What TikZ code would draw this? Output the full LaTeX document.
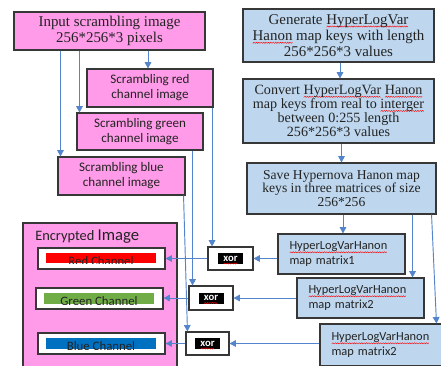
\documentclass[tikz,border=0pt]{standalone}
\usepackage{fontspec}
\setmainfont{Liberation Serif}
\newfontfamily\calfont{Carlito}
\usetikzlibrary{arrows.meta,calc}
\newdimen\wvw
\newcommand\wavepic{%
  \begin{pgfpicture}%
    \pgfsetlinewidth{0.3pt}\pgfsetstrokecolor{red}%
    \pgfmathtruncatemacro\wvn{\wvw/0.9pt}%
    \pgfpathmoveto{\pgfpoint{0pt}{0pt}}%
    \foreach \wi in {1,...,\wvn}{%
      \pgfmathsetmacro\wvy{mod(\wi,2)*0.9}%
      \pgfpathlineto{\pgfpoint{\wi*0.9pt}{\wvy pt}}}%
    \pgfusepath{stroke}%
  \end{pgfpicture}}
\newcommand\rwave[1]{\setbox0\hbox{#1}\wvw=\wd0\relax\rlap{\smash{\raisebox{-2.4pt}{\wavepic}}}\box0\relax}
\def\pxu{0.75pt}
\definecolor{pinkf}{RGB}{255,155,232}
\definecolor{bluef}{RGB}{190,215,238}
\definecolor{arrc}{RGB}{84,132,204}
\definecolor{edgec}{RGB}{55,55,55}
\definecolor{txtc}{RGB}{35,35,35}
\definecolor{greenbar}{RGB}{112,173,71}
\definecolor{bluebar}{RGB}{0,112,192}
\begin{document}
\begin{tikzpicture}[x=0.75pt,y=-0.75pt,
  wh/.style 2 args={minimum width={#1*\pxu},minimum height={#2*\pxu}},
  box/.style={draw=edgec,line width=0.8pt,inner sep=0pt,text=txtc},
  pbox/.style={box,fill=pinkf},
  bbox/.style={box,fill=bluef},
  wbox/.style={box,fill=white},
  serA/.style={font=\fontsize{11.2}{12.2}\selectfont,align=center},
  serB/.style={font=\fontsize{10.6}{10.6}\selectfont,align=center},
  serC/.style={font=\fontsize{10.2}{10.2}\selectfont,align=center},
  sansA/.style={font=\calfont\fontsize{9.8}{11.3}\selectfont,align=center},
  sansM/.style={font=\calfont\fontsize{9.3}{10.6}\selectfont,align=left,text width={104*\pxu}},
  xortxt/.style={fill=black,text=white,font=\calfont\bfseries\fontsize{8}{8}\selectfont,inner sep=0pt,minimum width={25*\pxu},minimum height={11*\pxu}},
  chtxt/.style={font=\calfont\fontsize{9.6}{9.6}\selectfont,text=txtc,anchor=base,inner sep=0pt},
  arr/.style={draw=arrc,line width=0.7pt,-{Triangle[length=4.8pt,width=5pt]}}
]
\fill[white] (0,0) rectangle (441,365);
\useasboundingbox (0,0) rectangle (441,365);

% left column
\node[pbox,wh={191}{38},serA] (input) at (109.5,31) {Input scrambling image\\256*256*3 pixels};
\node[pbox,wh={126}{38},sansA] (sred) at (150,88) {Scrambling red\\channel image};
\node[pbox,wh={126}{37},sansA] (sgreen) at (140,131.5) {Scrambling green\\channel image};
\node[pbox,wh={127}{38},sansA] (sblue) at (121.5,176) {Scrambling blue\\channel image};

% right column
\node[bbox,wh={191}{53},serA] (gen) at (338.5,35.5) {Generate \rwave{HyperLogVar}\\\rwave{Hanon} map keys with length\\256*256*3 values};
\node[bbox,wh={191}{64},serB] (conv) at (338.5,111) {Convert \rwave{HyperLogVar} \rwave{Hanon}\\map keys from real to \rwave{interger}\\between 0:255 length\\256*256*3 values};
\node[bbox,wh={189}{51},serC] (save) at (341.5,188.5) {Save Hypernova Hanon map\\keys in three matrices of size\\256*256};
\node[bbox,wh={127}{40},sansM] (m1) at (341.5,254) {\rwave{HyperLogVarHanon}\\map matrix1};
\node[bbox,wh={127}{40},sansM] (m2) at (360.5,298) {\rwave{HyperLogVarHanon}\\map matrix2};
\node[bbox,wh={127}{42},sansM] (m3) at (383.5,345) {\rwave{HyperLogVarHanon}\\map matrix2};

% encrypted image
\node[pbox,wh={154}{160}] (enc) at (100,303) {};
\node[anchor=base west,inner sep=0pt,text=txtc,font=\calfont] (enct) at (35,240) {\fontsize{10.8}{12}\selectfont Encrypted \fontsize{12.5}{12}\selectfont Image};

\node[wbox,wh={127}{21}] (redch) at (101.5,258.5) {};
\node[wbox,wh={127}{21}] (greench) at (99.5,298.5) {};
\node[wbox,wh={127}{21}] (bluech) at (101.5,343.5) {};

\node[fill=red,inner sep=0pt,wh={110}{10}] (redbar) at (101,258) {};
\node[fill=greenbar,inner sep=0pt,wh={110}{11}] (greenbar) at (99,298.5) {};
\node[fill=bluebar,inner sep=0pt,wh={110}{11}] (bluebar) at (101,343.5) {};
\begin{scope}
  \clip (redbar.north west) rectangle (redbar.south east);
  \node[chtxt] (redt) at (101,265) {Red Channel};
\end{scope}
\begin{scope}
  \clip (greenbar.north west) rectangle (greenbar.south east);
  \node[chtxt] (greent) at (99,305.5) {Green Channel};
\end{scope}
\begin{scope}
  \clip (bluebar.north west) rectangle (bluebar.south east);
  \node[chtxt] (bluet) at (101,350.5) {Blue Channel};
\end{scope}

% xor boxes
\node[wbox,wh={45}{23}] (xor1) at (230.5,258.5) {};
\node[xortxt] (xor1t) at (xor1) {\rwave{xor}};
\node[wbox,wh={44}{24}] (xor2) at (211,298) {};
\node[xortxt] (xor2t) at (xor2) {\rwave{xor}};
\node[wbox,wh={43}{23}] (xor3) at (207.5,343.5) {};
\node[xortxt] (xor3t) at (xor3) {\rwave{xor}};

% connectors: input to scrambling
\coordinate (g1) at ($(sgreen.north west)+(3,0)$);
\coordinate (b1) at ($(sblue.north west)+(3,0)$);
\coordinate (r1) at ($(sred.north)+(-2,0)$);
\draw[arr] (input.south -| r1) -- (r1);
\draw[arr] (input.south -| g1) -- (g1);
\draw[arr] (input.south -| b1) -- (b1);

% right chain
\coordinate (gc) at ($(conv.north)+(1.5,0)$);
\draw[arr] (gen.south -| gc) -- (gc);
\draw[arr] (conv.south -| save.north) -- (save.north);
\coordinate (mc) at ($(m1.north)+(1.5,0)$);
\draw[arr] (save.south -| mc) -- (mc);
\coordinate (m2c) at ($(m2.north east)+(-12,0)$);
\draw[arr] (save.south -| m2c) -- (m2c);
\coordinate (m3s) at ($(save.south east)+(-5,0)$);
\coordinate (m3c) at ($(m3.north west)+(117,0)$);
\draw[arr] (m3s) -- (m3c);

% scrambling to xor
\coordinate (rx) at ($(sred.south east)+(-1.5,0)$);
\draw[arr] (rx) -- (rx |- xor1.north);
\coordinate (gx) at ($(sgreen.south east)+(-11,0)$);
\draw[arr] (gx) -- (gx |- xor2.north);
\coordinate (bx) at ($(sblue.south east)+(-2,0)$);
\coordinate (bx2) at ($(xor3.north west)+(2,0)$);
\draw[arr] (bx) -- (bx2);

% matrices to xor, xor to channels
\draw[arr] (m1.west |- xor1.east) -- (xor1.east);
\draw[arr] (xor1.west) -- (redch.east |- xor1.west);
\draw[arr] (m2.west |- xor2.east) -- (xor2.east);
\draw[arr] (xor2.west) -- (greench.east |- xor2.west);
\draw[arr] (m3.west |- xor3.east) -- (xor3.east);
\draw[arr] (xor3.west) -- (bluech.east |- xor3.west);
\end{tikzpicture}
\end{document}
